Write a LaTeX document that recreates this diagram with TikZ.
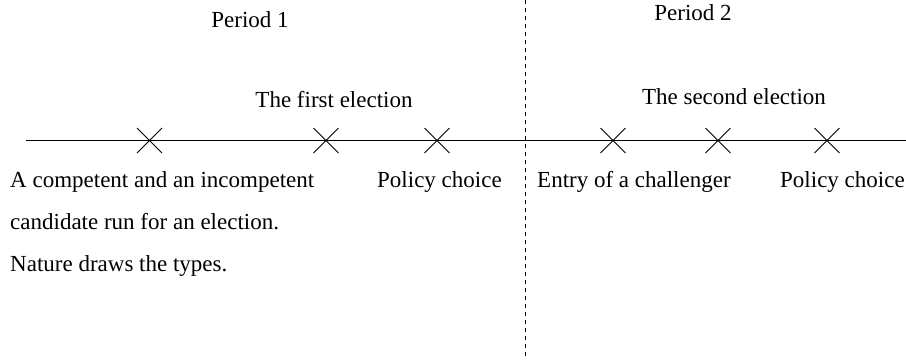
\documentclass[tikz,border=0pt]{standalone}
\usepackage{fontspec}
\setmainfont{Liberation Serif}
\usetikzlibrary{shapes.misc}
\begin{document}
\begin{tikzpicture}[x=1pt,y=-1pt,
  every node/.style={font=\fontsize{23}{27}\selectfont, inner sep=0pt},
  evt/.style={draw, cross out, minimum size=24pt, line width=0.9pt},
  lbl/.style={anchor=base west},
  ttl/.style={anchor=base}]
\useasboundingbox (0,0) rectangle (906,360);
\coordinate (L) at (26,140.5);
\coordinate (R) at (906,140.5);
\coordinate (DT) at (525,0);
\coordinate (DB) at (525,356);
\draw[line width=1pt] (L) -- (R);
\draw[line width=1pt, dash pattern=on 4pt off 4pt] (DT) -- (DB);
\node[evt] (e1) at (149.5,140.5) {};
\node[evt] (e2) at (326,140.5) {};
\node[evt] (e3) at (437,140.5) {};
\node[evt] (e4) at (613,140.5) {};
\node[evt] (e5) at (718,140.5) {};
\node[evt] (e6) at (827,140.5) {};
\node[ttl] (p1) at (250,27) {Period 1};
\node[ttl] (p2) at (693,20) {Period 2};
\node[ttl] (t1) at (334,107) {The first election};
\node[ttl] (t2) at (734,104) {The second election};
\node[lbl] (a1) at (10,187) {A competent and an incompetent};
\node[lbl] (a2) at (10,229) {candidate run for an election.};
\node[lbl] (a3) at (10,271) {Nature draws the types.};
\node[lbl] (pc1) at (377,187) {Policy choice};
\node[lbl] (en) at (537,187) {Entry of a challenger};
\node[lbl] (pc2) at (780,187) {Policy choice};
\end{tikzpicture}
\end{document}
